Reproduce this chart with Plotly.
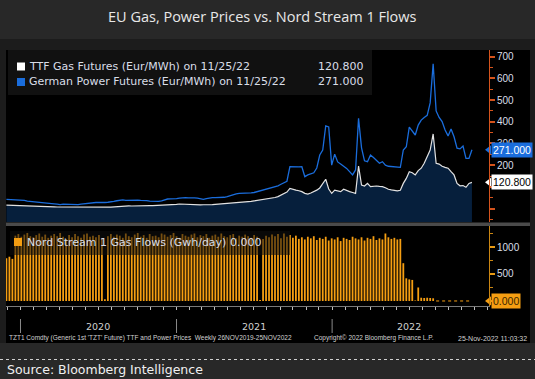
import pandas as pd
import plotly.graph_objects as go

W, H = 535, 379

# ---------------- data ----------------
start_date = "2019-11-29"
n_weeks = 157
dates = pd.date_range(start=start_date, periods=n_weeks, freq="7D")

ttf_gas = [
    15.5, 14.8, 14.2, 13.5, 13.2, 12.5, 11.8, 11.0, 10.8, 10.3,
    9.8, 9.5, 9.2, 9.0, 8.5, 8.0, 7.8, 7.2, 7.0, 6.5,
    6.2, 5.9, 5.0, 4.9, 5.2, 5.0, 5.3, 5.8, 6.0, 5.6,
    5.2, 5.4, 5.5, 5.6, 6.2, 7.0, 8.2, 9.4, 10.6, 12.0,
    13.2, 12.5, 11.8, 12.5, 13.5, 14.2, 14.8, 14.0, 13.8, 13.5,
    14.0, 14.8, 14.5, 15.0, 15.8, 16.5, 17.0, 19.0, 21.0, 20.0,
    18.5, 18.0, 16.5, 16.2, 16.8, 16.5, 17.5, 17.0, 18.0, 18.5,
    19.5, 20.5, 21.5, 21.0, 23.0, 25.0, 24.5, 25.0, 26.0, 27.5,
    29.0, 30.5, 33.0, 35.0, 37.0, 39.0, 40.5, 42.0, 44.0, 47.0,
    51.0, 55.0, 62.0, 70.0, 76.0, 93.0, 88.0, 85.0, 82.0, 78.0,
    70.0, 67.0, 72.0, 78.0, 85.0, 95.0, 115.0, 135.0, 90.0, 70.0,
    85.0, 82.0, 78.0, 89.0, 82.0, 78.0, 74.0, 70.0, 196.0, 108.0,
    104.0, 116.0, 101.0, 103.0, 104.0, 102.0, 101.0, 96.0, 89.0, 86.0,
    84.0, 82.0, 84.0, 116.0, 139.0, 170.0, 165.0, 155.0, 175.0, 186.0,
    209.0, 239.0, 270.0, 344.0, 209.0, 205.0, 195.0, 190.0, 186.0, 170.0,
    155.0, 116.0, 105.0, 106.0, 98.0, 116.0, 120.8,
]

german_power = [
    42, 41, 40, 41, 40, 40, 38, 34, 33, 30,
    30, 30, 29, 28, 26, 25, 22, 20, 18, 20,
    19, 18, 17, 19, 18, 20, 22, 24, 26, 27,
    28, 28, 27, 28, 29, 30, 33, 36, 38, 40,
    38, 39, 37, 38, 39, 38, 38, 37, 34, 33,
    32, 33, 35, 40, 44, 45, 44, 46, 48, 50,
    50, 49, 50, 49, 48, 44, 42, 46, 49, 50,
    50, 50, 51, 52, 55, 60, 66, 68, 70, 70,
    72, 70, 72, 74, 78, 82, 85, 88, 92, 96,
    100, 105, 112, 120, 126, 193, 192, 190, 192, 193,
    147, 155, 160, 165, 187, 247, 270, 381, 376, 200,
    251, 215, 205, 195, 185, 170, 155, 178, 416, 280,
    220, 216, 247, 235, 224, 209, 216, 200, 195, 193,
    192, 190, 190, 270, 285, 375, 354, 339, 385, 408,
    420, 430, 487, 667, 450, 420, 401, 362, 335, 367,
    331, 278, 275, 288, 231, 231, 271.0,
]

nord_stream_flows = [
    790, 820, 780, 1210, 1240, 1190, 1230, 1260, 1200, 1180,
    1220, 1250, 1190, 1230, 1170, 1210, 1240, 1200, 1260, 1190,
    1150, 1220, 1180, 1240, 1200, 1170, 1230, 1250, 1190, 1210,
    1180, 1220, 1160, 30, 1200, 1240, 1190, 1230, 1210, 1170,
    1250, 1200, 1180, 1230, 1260, 1190, 1220, 1170, 1240, 1200,
    1210, 1180, 1250, 1230, 1190, 1220, 1260, 1200, 1170, 1240,
    1210, 1190, 1230, 1250, 1180, 1220, 1200, 1240, 1170, 1210,
    1230, 1190, 1250, 1200, 1180, 1220, 1240, 1160, 1210, 1190,
    1230, 1200, 1170, 1220, 1190, 20, 1150, 1210, 1180, 1230,
    1200, 1240, 1160, 1250, 1190, 1220, 1170, 1210, 1150, 1180,
    1140, 1190, 1160, 1200, 1130, 1170, 1150, 1190, 1120, 1160,
    1140, 1180, 1110, 1170, 1150, 1130, 1190, 1160, 1140, 1180,
    1120, 1170, 1150, 1200, 1130, 1160, 1140, 1250, 1180, 1150,
    1170, 1140, 1150, 700, 420, 400, 390, 10, 250, 60,
    55, 60, 55, 50, 0, 0, 0, 0, 0, 0,
    0, 0, 0, 0, 0, 0, 0,
]

assert len(ttf_gas) == n_weeks and len(german_power) == n_weeks and len(nord_stream_flows) == n_weeks

years = ["2020", "2021", "2022"]
price_ticks = [0, 100, 200, 300, 400, 500, 600, 700]
price_tick_text = ["", "", "200", "300", "400", "500", "600", "700"]  # 0/100 sit under value boxes
flow_ticks = [0, 500, 1000]
flow_tick_text = ["", "500", "1000"]

gas_label = "TTF Gas Futures (Eur/MWh) on 11/25/22"
power_label = "German Power Futures (Eur/MWh) on 11/25/22"
flow_label = "Nord Stream 1 Gas Flows (Gwh/day)"
title_text = "EU Gas, Power Prices vs. Nord Stream 1 Flows"
footer_left = "TZT1 Comdty (Generic 1st 'TZT' Future) TTF and Power Prices  Weekly 26NOV2019-25NOV2022"
footer_mid = "Copyright\u00a9 2022 Bloomberg Finance L.P."
footer_right = "25-Nov-2022 11:03:32"
source_text = "Source: Bloomberg Intelligence"

# ---------------- style ----------------
C_GAS = "#e2e2e2"
C_FILL = "#061f3c"
C_POWER = "#1a6ddc"
C_FLOW = "#f59e12"
C_AX1 = "#d4531c"
C_TXT = "#d9dee8"
X_RANGE = ["2019-11-28", "2023-01-04"]
Y1_RANGE = [-62, 731]
Y2_RANGE = [-93, 1389]


def px(x):
    return x / W


def py(y):
    return 1 - y / H


fig = go.Figure()

# baseline for the area fill (bottom edge of the price panel)
fig.add_trace(go.Scatter(x=dates, y=[Y1_RANGE[0]] * n_weeks, mode="lines",
                         line=dict(width=0, color=C_FILL), hoverinfo="skip",
                         showlegend=False, xaxis="x", yaxis="y"))
fig.add_trace(go.Scatter(x=dates, y=ttf_gas, mode="lines", name=gas_label,
                         line=dict(color=C_GAS, width=1.2), fill="tonexty",
                         fillcolor=C_FILL, showlegend=False, xaxis="x", yaxis="y"))
fig.add_trace(go.Scatter(x=dates, y=german_power, mode="lines", name=power_label,
                         line=dict(color=C_POWER, width=1.3),
                         showlegend=False, xaxis="x", yaxis="y"))

fig.add_trace(go.Bar(x=dates, y=nord_stream_flows, marker=dict(color=C_FLOW, line=dict(width=0)),
                     name=flow_label, showlegend=False, xaxis="x2", yaxis="y2"))
zero_flow = [0 if v == 0 else None for v in nord_stream_flows]
fig.add_trace(go.Scatter(x=dates, y=zero_flow, mode="lines",
                         line=dict(color=C_FLOW, width=1, dash="dot"),
                         showlegend=False, hoverinfo="skip", xaxis="x2", yaxis="y2"))

# last-value pointer triangles on the right axes
fig.add_trace(go.Scatter(x=[X_RANGE[1]], y=[german_power[-1]], mode="markers",
                         marker=dict(symbol="triangle-left", size=8, color=C_POWER),
                         cliponaxis=False, showlegend=False, xaxis="x", yaxis="y"))
fig.add_trace(go.Scatter(x=[X_RANGE[1]], y=[ttf_gas[-1]], mode="markers",
                         marker=dict(symbol="triangle-left", size=8, color="#ffffff"),
                         cliponaxis=False, showlegend=False, xaxis="x", yaxis="y"))
fig.add_trace(go.Scatter(x=[X_RANGE[1]], y=[nord_stream_flows[-1]], mode="markers",
                         marker=dict(symbol="triangle-left", size=8, color=C_FLOW),
                         cliponaxis=False, showlegend=False, xaxis="x2", yaxis="y2"))

x_dom = [px(6), px(489)]
fig.update_layout(
    width=W, height=H,
    margin=dict(l=0, r=0, t=0, b=0),
    paper_bgcolor="#1c1c1c",
    plot_bgcolor="rgba(0,0,0,0)",
    bargap=0.4,
    hovermode=False,
    font=dict(family="DejaVu Sans", color=C_TXT, size=10),
    xaxis=dict(domain=x_dom, range=X_RANGE, type="date", anchor="y",
               showticklabels=False, showgrid=False, zeroline=False, showline=False, ticks=""),
    yaxis=dict(domain=[py(222), py(50)], range=Y1_RANGE, side="right", anchor="x",
               tickmode="array", tickvals=price_ticks, ticktext=price_tick_text,
               showgrid=False, zeroline=False,
               showline=True, linecolor=C_AX1, linewidth=1,
               ticks="outside", ticklen=5, tickwidth=2, tickcolor=C_AX1,
               minor=dict(ticks="outside", ticklen=3, tickwidth=1, tickcolor=C_AX1,
                          tickmode="linear", tick0=50, dtick=100),
               tickfont=dict(family="Liberation Sans", size=10, color=C_TXT)),
    xaxis2=dict(domain=x_dom, range=X_RANGE, type="date", anchor="y2",
                showticklabels=False, showgrid=False, zeroline=False,
                showline=True, linecolor="#7a7a7a", linewidth=1,
                ticks="outside", ticklen=3, tickcolor="#bdbdbd", tickwidth=1,
                tick0="2020-01-01", dtick="M1"),
    yaxis2=dict(domain=[py(306), py(226)], range=Y2_RANGE, side="right", anchor="x2",
                tickmode="array", tickvals=flow_ticks, ticktext=flow_tick_text,
                showgrid=False, zeroline=False,
                showline=True, linecolor="#c98512", linewidth=1,
                ticks="outside", ticklen=5, tickwidth=2, tickcolor="#e89a14",
                minor=dict(ticks="outside", ticklen=3, tickwidth=1, tickcolor="#c98512",
                           tickmode="linear", tick0=250, dtick=500),
                tickfont=dict(family="Liberation Sans", size=10, color=C_TXT)),
)

shapes = [
    dict(type="rect", xref="paper", yref="paper", x0=0, x1=1, y0=py(39), y1=1,
         fillcolor="#282828", line_width=0, layer="below"),
    dict(type="rect", xref="paper", yref="paper", x0=px(6), x1=px(530), y0=py(343), y1=py(50),
         fillcolor="#000000", line_width=0, layer="below"),
    dict(type="rect", xref="paper", yref="paper", x0=0, x1=1, y0=0, y1=py(343),
         fillcolor="#282828", line_width=0, layer="below"),
    dict(type="rect", xref="paper", yref="paper", x0=px(6), x1=px(530), y0=py(226), y1=py(222.5),
         fillcolor="#4a4a4a", line_width=0, layer="above"),
    # legend boxes
    dict(type="rect", xref="paper", yref="paper", x0=px(8), x1=px(372), y0=py(95), y1=py(50),
         fillcolor="rgba(18,18,18,0.92)", line_width=0, layer="above"),
    dict(type="rect", xref="paper", yref="paper", x0=px(10), x1=px(290), y0=py(255), y1=py(231),
         fillcolor="rgba(14,14,14,0.55)", line_width=0, layer="above"),
    # legend swatches
    dict(type="rect", xref="paper", yref="paper", x0=px(17), x1=px(25), y0=py(70.5), y1=py(62.5),
         fillcolor="#ffffff", line_width=0, layer="above"),
    dict(type="rect", xref="paper", yref="paper", x0=px(17), x1=px(25), y0=py(86), y1=py(78),
         fillcolor=C_POWER, line_width=0, layer="above"),
    dict(type="rect", xref="paper", yref="paper", x0=px(14), x1=px(22), y0=py(246), y1=py(238),
         fillcolor=C_FLOW, line_width=0, layer="above"),
    # dotted separator above the source line
    dict(type="line", xref="paper", yref="paper", x0=0, x1=1, y0=py(359.5), y1=py(359.5),
         line=dict(color="#cfcfcf", width=1, dash="dot")),
]
for yr in years[:]:
    shapes.append(dict(type="line", xref="x2", yref="paper", x0=f"{yr}-01-01", x1=f"{yr}-01-01",
                       y0=py(333), y1=py(319), line=dict(color="#8a8a8a", width=1)))

annotations = [
    dict(text=title_text, xref="paper", yref="paper", x=px(262), y=py(17), xanchor="center",
         yanchor="middle", showarrow=False, font=dict(family="Open Sans", size=14.5, color="#e8e8e8")),
    dict(text=gas_label, xref="paper", yref="paper", x=px(27), y=py(67), xanchor="left",
         yanchor="middle", showarrow=False, font=dict(family="DejaVu Sans", size=11, color=C_TXT)),
    dict(text=f"{ttf_gas[-1]:.3f}", xref="paper", yref="paper", x=px(366), y=py(67), xanchor="right",
         yanchor="middle", showarrow=False, font=dict(family="DejaVu Sans", size=11, color=C_TXT)),
    dict(text=power_label, xref="paper", yref="paper", x=px(27), y=py(82), xanchor="left",
         yanchor="middle", showarrow=False, font=dict(family="DejaVu Sans", size=11, color=C_TXT)),
    dict(text=f"{german_power[-1]:.3f}", xref="paper", yref="paper", x=px(366), y=py(82), xanchor="right",
         yanchor="middle", showarrow=False, font=dict(family="DejaVu Sans", size=11, color=C_TXT)),
    dict(text=f"{flow_label} {nord_stream_flows[-1]:.3f}", xref="paper", yref="paper", x=px(25), y=py(242),
         xanchor="left", yanchor="middle", showarrow=False,
         font=dict(family="DejaVu Sans", size=11, color=C_TXT)),
    # last value boxes
    dict(text=f"{german_power[-1]:.3f}", xref="paper", yref="y", x=px(491), y=german_power[-1],
         xanchor="left", yanchor="middle", showarrow=False, bgcolor=C_POWER, borderpad=1,
         font=dict(family="Liberation Sans", size=10.5, color="#ffffff")),
    dict(text=f"{ttf_gas[-1]:.3f}", xref="paper", yref="y", x=px(491), y=ttf_gas[-1],
         xanchor="left", yanchor="middle", showarrow=False, bgcolor="#ffffff", borderpad=1,
         font=dict(family="Liberation Sans", size=10.5, color="#000000")),
    dict(text=f"{nord_stream_flows[-1]:.3f}", xref="paper", yref="y2", x=px(491), y=nord_stream_flows[-1],
         xanchor="left", yanchor="middle", showarrow=False, bgcolor=C_FLOW, borderpad=1,
         font=dict(family="Liberation Sans", size=10.5, color="#3a2600")),
    # footer
    dict(text=footer_left, xref="paper", yref="paper", x=px(7), y=py(338), xanchor="left",
         yanchor="middle", showarrow=False, font=dict(family="Liberation Sans", size=6.5, color="#d0d0d0")),
    dict(text=footer_mid, xref="paper", yref="paper", x=px(312), y=py(338), xanchor="left",
         yanchor="middle", showarrow=False, font=dict(family="Liberation Sans", size=6.5, color="#d0d0d0")),
    dict(text=footer_right, xref="paper", yref="paper", x=px(529), y=py(338), xanchor="right",
         yanchor="middle", showarrow=False, font=dict(family="Liberation Sans", size=7, color="#d0d0d0")),
    dict(text=source_text, xref="paper", yref="paper", x=px(5), y=py(369), xanchor="left",
         yanchor="middle", showarrow=False, font=dict(family="DejaVu Sans", size=12.5, color="#f0f0f0")),
]
for yr in years:
    annotations.append(dict(text=yr, xref="x2", yref="paper", x=f"{yr}-07-01", y=py(326),
                            xanchor="center", yanchor="middle", showarrow=False,
                            font=dict(family="DejaVu Sans", size=9.5, color="#d0d0d0")))

fig.update_layout(shapes=shapes, annotations=annotations)
fig.write_html("out.html", config={"displayModeBar": False, "staticPlot": True},
               post_script="document.body.style.margin='0px';document.body.style.overflow='hidden';")
